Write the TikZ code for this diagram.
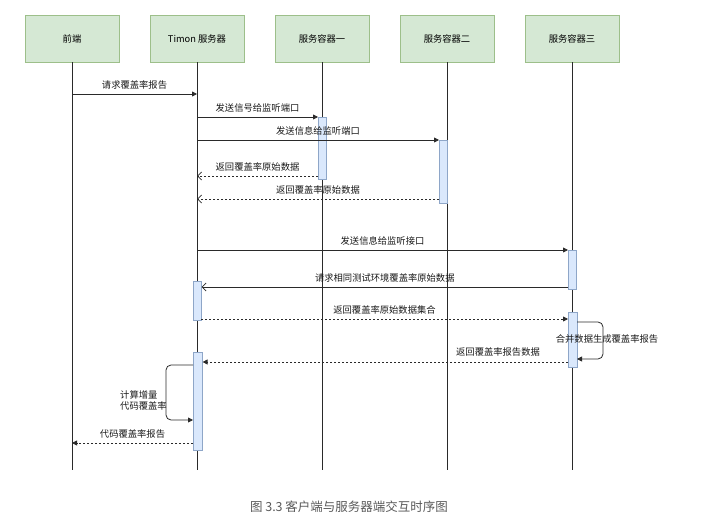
\documentclass[tikz,border=0pt]{standalone}
\usepackage{fontspec}
\setmainfont{Noto Sans CJK SC}
\usetikzlibrary{arrows.meta}
\definecolor{hdrfill}{HTML}{D5E8D4}
\definecolor{hdrdraw}{HTML}{9DBF8A}
\definecolor{actfill}{HTML}{DAE8FC}
\definecolor{actdraw}{HTML}{8EA6C8}
\definecolor{ln}{HTML}{2A2A2A}
\tikzset{
  hdr/.style={draw=hdrdraw, fill=hdrfill, line width=0.8pt, minimum width=94pt, minimum height=47pt, inner sep=0pt, font=\fontsize{9.3}{11}\selectfont, text=black},
  life/.style={draw=ln, line width=0.8pt},
  act/.style={draw=actdraw, fill=actfill, line width=0.6pt, minimum width=8pt, inner sep=0pt, anchor=north west},
  msg/.style={draw=ln, line width=0.8pt, -{Triangle[length=5pt,width=5pt]}},
  ret/.style={draw=ln, line width=0.8pt, dash pattern=on 2pt off 2pt},
  fillhead/.style={-{Triangle[length=5pt,width=5pt]}},
  openhead/.style={-{Straight Barb[length=4pt,width=8pt]}},
  lbl/.style={font=\fontsize{9.3}{11}\selectfont, text=black!90, inner sep=0pt},
}
\begin{document}
\begin{tikzpicture}[x=1pt,y=-1pt]
\useasboundingbox (0,0) rectangle (713,524);
% headers
\node[hdr] (h1) at (72,38.5) {前端};
\node[hdr] (h2) at (197,38.5) {Timon 服务器};
\node[hdr] (h3) at (322,38.5) {服务容器一};
\node[hdr] (h4) at (447,38.5) {服务容器二};
\node[hdr] (h5) at (572,38.5) {服务容器三};
% lifeline ends
\coordinate (e1) at (72,470);
\coordinate (e2) at (197,470);
\coordinate (e3) at (322,470);
\coordinate (e4) at (447,470);
\coordinate (e5) at (572,470);
\foreach \i in {1,...,5} {\draw[life] (h\i.south) -- (e\i);}
% activation boxes
\node[act, minimum height=62pt] (a1) at (318,117) {};
\node[act, minimum height=63pt] (a2) at (439,140) {};
\node[act, minimum height=39pt] (a3) at (568,250) {};
\node[act, minimum height=39pt] (a4) at (193,281) {};
\node[act, minimum height=55pt, minimum width=9pt] (a5) at (568,312) {};
\node[act, minimum height=98pt, minimum width=9pt] (a6) at (193,352) {};
% message endpoints on lifelines
\coordinate (p1) at (72,94);
\coordinate (q1) at (197,94);
\coordinate (p2) at (197,117);
\coordinate (p3) at (197,140);
\coordinate (p4) at (197,176);
\coordinate (p5) at (197,199);
\coordinate (p6) at (197,250);
\coordinate (p10) at (72,443);
% messages
\draw[msg] (p1) -- (q1) node[lbl, midway, above=4pt] {请求覆盖率报告};
\draw[msg] (p2) -- (a1.north west) node[lbl, midway, above=4pt] {发送信号给监听端口};
\draw[msg] (p3) -- (a2.north west) node[lbl, midway, above=4pt] {发送信息给监听端口};
\draw[ret, openhead] (a1.west |- p4) -- (p4) node[lbl, midway, above=4pt] {返回覆盖率原始数据};
\draw[ret, openhead] (a2.west |- p5) -- (p5) node[lbl, midway, above=4pt] {返回覆盖率原始数据};
\draw[msg] (p6) -- (a3.north west) node[lbl, midway, above=4pt] {发送信息给监听接口};
\coordinate (p7) at (568,287);
\draw[life, openhead] (p7) -- (a4.east |- p7) node[lbl, midway, above=4pt] {请求相同测试环境覆盖率原始数据};
\coordinate (p8) at (201,319);
\draw[ret, fillhead] (p8) -- (a5.west |- p8) node[lbl, midway, above=4pt] {返回覆盖率原始数据集合};
% self loop on container three
\coordinate (s1) at (577,322);
\coordinate (s2) at (577,359);
\draw[life, fillhead, rounded corners=5pt] (s1) -- (603,322) -- (603,359) -- (s2);
\node[lbl] (t1) at (607,339) {合并数据生成覆盖率报告};
% return report data
\coordinate (p9) at (568,362);
\draw[ret, fillhead] (p9) -- (a6.east |- p9);
\node[lbl] (t2) at (498,352) {返回覆盖率报告数据};
% self loop on Timon
\coordinate (s3) at (193,365);
\coordinate (s4) at (193,420);
\draw[life, fillhead, rounded corners=5pt] (s3) -- (166,365) -- (166,420) -- (s4);
\node[lbl, anchor=west, align=left] (t3) at (120,400) {计算增量\\代码覆盖率};
% final return
\draw[ret, fillhead] (a6.west |- p10) -- (p10) node[lbl, midway, above=4pt] {代码覆盖率报告};
% caption
\node[font=\fontsize{12.5}{14}\selectfont, text=black!65, inner sep=0pt] (cap) at (349,507) {图 3.3 客户端与服务器端交互时序图};
\end{tikzpicture}
\end{document}
